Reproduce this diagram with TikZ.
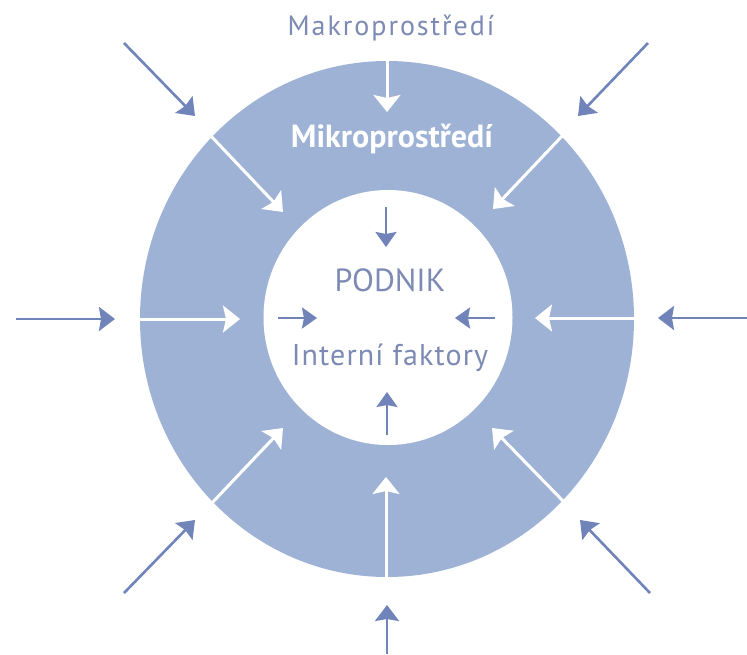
\documentclass[tikz,border=0pt]{standalone}
\usepackage{fontspec}
\setmainfont{PT Sans}
\usetikzlibrary{arrows.meta}
\definecolor{ringblue}{RGB}{158,178,213}
\definecolor{arrowblue}{RGB}{112,132,186}
\definecolor{textblue}{RGB}{124,138,180}
\tikzset{
  outarrow/.style={draw=arrowblue, line width=2.6pt, -{Stealth[length=16pt,width=24pt,inset=2pt]}},
  whitearrow/.style={draw=white, line width=3pt, -{Stealth[length=17pt,width=27pt,inset=3pt]}},
  inarrow/.style={draw=arrowblue, line width=2.4pt, -{Stealth[length=15pt,width=21pt,inset=2pt]}},
  lbl/.style={anchor=base, inner sep=0pt, text=textblue},
}
\begin{document}
\begin{tikzpicture}[x=1pt,y=-1pt]
\useasboundingbox (0,0) rectangle (747,654);
\fill[white] (0,0) rectangle (747,654);
% ring
\fill[ringblue] (387,319) ellipse [x radius=247, y radius=258];
\fill[white] (388,317.5) ellipse [x radius=124.5, y radius=127.5];
% coordinates
\coordinate (nW1) at (387,58);   \coordinate (nW2) at (387,112);
\coordinate (nI1) at (386,207);  \coordinate (nI2) at (386,247);
\coordinate (neO1) at (648,43);  \coordinate (neO2) at (578,116);
\coordinate (neW1) at (564,134); \coordinate (neW2) at (493,209);
\coordinate (eO1) at (747,318);  \coordinate (eO2) at (658,318);
\coordinate (eW1) at (636,318);  \coordinate (eW2) at (535,318);
\coordinate (eI1) at (495,318);  \coordinate (eI2) at (455,318);
\coordinate (seO1) at (650,593); \coordinate (seO2) at (580,520);
\coordinate (seW1) at (564,502); \coordinate (seW2) at (492,428);
\coordinate (sO1) at (387,654);  \coordinate (sO2) at (387,605);
\coordinate (sW1) at (386,580);  \coordinate (sW2) at (386,477);
\coordinate (sI1) at (387,435);  \coordinate (sI2) at (387,392);
\coordinate (swO1) at (124,593); \coordinate (swO2) at (195,520);
\coordinate (swW1) at (211,504); \coordinate (swW2) at (283,428);
\coordinate (wO1) at (16,319);   \coordinate (wO2) at (115,319);
\coordinate (wW1) at (139,319);  \coordinate (wW2) at (240,319);
\coordinate (wI1) at (278,318);  \coordinate (wI2) at (317,318);
\coordinate (nwO1) at (124,43);  \coordinate (nwO2) at (195,116);
\coordinate (nwW1) at (210,135); \coordinate (nwW2) at (283,212);
% outer arrows
\draw[outarrow] (neO1) -- (neO2);
\draw[outarrow] (eO1) -- (eO2);
\draw[outarrow] (seO1) -- (seO2);
\draw[outarrow] (sO1) -- (sO2);
\draw[outarrow] (swO1) -- (swO2);
\draw[outarrow] (wO1) -- (wO2);
\draw[outarrow] (nwO1) -- (nwO2);
% white arrows
\draw[whitearrow] (nW1) -- (nW2);
\draw[whitearrow] (neW1) -- (neW2);
\draw[whitearrow] (eW1) -- (eW2);
\draw[whitearrow] (seW1) -- (seW2);
\draw[whitearrow] (sW1) -- (sW2);
\draw[whitearrow] (swW1) -- (swW2);
\draw[whitearrow] (wW1) -- (wW2);
\draw[whitearrow] (nwW1) -- (nwW2);
% inner arrows
\draw[inarrow] (nI1) -- (nI2);
\draw[inarrow] (eI1) -- (eI2);
\draw[inarrow] (sI1) -- (sI2);
\draw[inarrow] (wI1) -- (wI2);
% labels
\node[lbl, font=\fontsize{28}{34}\selectfont\addfontfeature{LetterSpace=7}] (makro) at (391,35) {Makroprostředí};
\node[lbl, text=white, font=\bfseries\fontsize{32}{38}\selectfont] (mikro) at (392,147) {Mikroprostředí};
\node[lbl, font=\fontsize{32}{38}\selectfont] (podnik) at (390,291) {PODNIK};
\node[lbl, font=\fontsize{30}{36}\selectfont\addfontfeature{LetterSpace=3.7}] (interni) at (390,365) {Interní faktory};
\end{tikzpicture}
\end{document}
